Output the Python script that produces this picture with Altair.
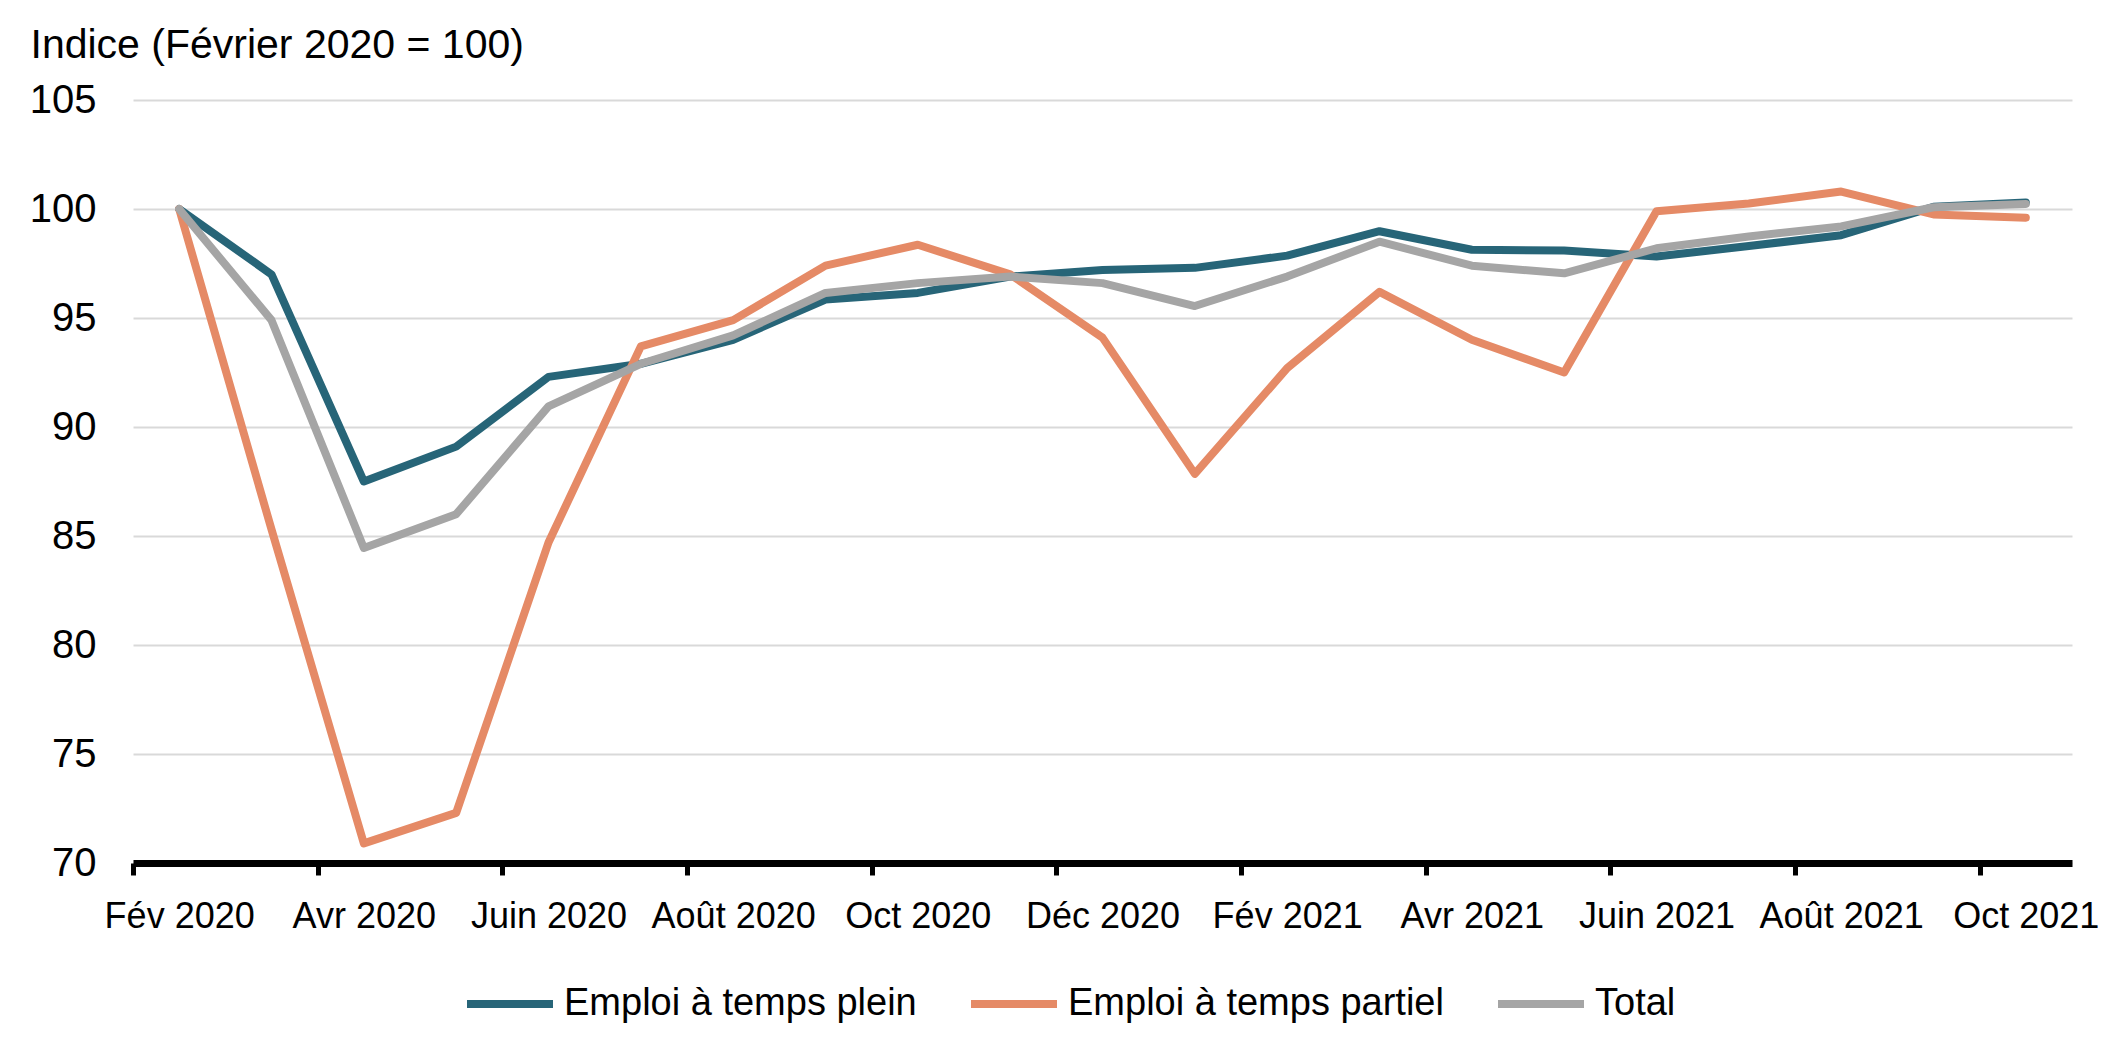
import altair as alt
import pandas as pd

months = ["Fév 2020", "Mars 2020", "Avr 2020", "Mai 2020", "Juin 2020", "Juil 2020",
          "Août 2020", "Sept 2020", "Oct 2020", "Nov 2020", "Déc 2020", "Janv 2021",
          "Fév 2021", "Mars 2021", "Avr 2021", "Mai 2021", "Juin 2021", "Juil 2021",
          "Août 2021", "Sept 2021", "Oct 2021"]
full_time = [100, 97.0, 87.5, 89.1, 92.3, 92.9, 94.0, 95.85, 96.15, 96.9, 97.2, 97.3,
             97.86, 98.98, 98.13, 98.1, 97.82, 98.3, 98.8, 100.1, 100.3]
part_time = [100, 85.3, 70.9, 72.3, 84.7, 93.7, 94.9, 97.4, 98.36, 97.0, 94.1, 87.85,
             92.7, 96.2, 94.0, 92.5, 99.9, 100.25, 100.8, 99.75, 99.6]
total = [100, 94.9, 84.45, 86.0, 90.95, 92.9, 94.2, 96.15, 96.6, 96.9, 96.6, 95.55,
         96.9, 98.5, 97.4, 97.05, 98.2, 98.74, 99.2, 100.08, 100.23]
series_names = ["Emploi à temps plein", "Emploi à temps partiel", "Total"]
series_colors = ["#276578", "#E58A66", "#A5A5A5"]
tick_months = months[::2]
y_ticks = [70, 75, 80, 85, 90, 95, 100, 105]

rows = []
for name, vals in zip(series_names, [full_time, part_time, total]):
    for m, v in zip(months, vals):
        rows.append({"mois": m, "valeur": v, "serie": name})
df = pd.DataFrame(rows)

W = 1939
H = 763
step = W / len(months)
FONT = "Liberation Sans"

chart = alt.Chart(df).mark_line(strokeWidth=8, strokeCap="round", strokeJoin="round").encode(
    x=alt.X("mois:O",
            scale=alt.Scale(type="point", domain=months, padding=0.5),
            axis=alt.Axis(values=tick_months, title=None, labelAngle=0,
                          domain=True, domainColor="black", domainWidth=7,
                          ticks=True, tickColor="black", tickWidth=5, tickSize=12,
                          tickOffset=-step / 2, labelOffset=step / 2,
                          labelBaseline="alphabetic", labelPadding=52,
                          labelFont=FONT, labelFontSize=36, labelColor="black",
                          grid=False)),
    y=alt.Y("valeur:Q",
            scale=alt.Scale(domain=[70, 105], nice=False, zero=False),
            axis=alt.Axis(values=y_ticks, title="Indice (Février 2020 = 100)",
                          titleAngle=0, titleAlign="left", titleBaseline="alphabetic",
                          titleX=-103, titleY=-43, titleFont=FONT, titleFontSize=41,
                          titleFontWeight="normal", titleColor="black",
                          domain=False, ticks=False, labelPadding=37,
                          labelFont=FONT, labelFontSize=40, labelColor="black",
                          grid=True, gridColor="#D9D9D9", gridWidth=2)),
    color=alt.Color("serie:N",
                    scale=alt.Scale(domain=series_names, range=series_colors),
                    legend=alt.Legend(title=None, orient="none", direction="horizontal",
                                      legendX=330, legendY=857,
                                      symbolType="stroke", symbolSize=7396,
                                      symbolStrokeWidth=8, labelFont=FONT,
                                      labelFontSize=38, labelColor="black",
                                      labelLimit=1000,
                                      labelOffset=7, columnPadding=38, padding=0)),
).properties(
    width=W, height=H,
    autosize=alt.AutoSizeParams(type="none"),
    padding={"left": 125, "top": 92, "right": 46, "bottom": 180},
).configure_view(stroke=None)

chart.save("out.html", embed_options={"renderer": "svg", "actions": False})
